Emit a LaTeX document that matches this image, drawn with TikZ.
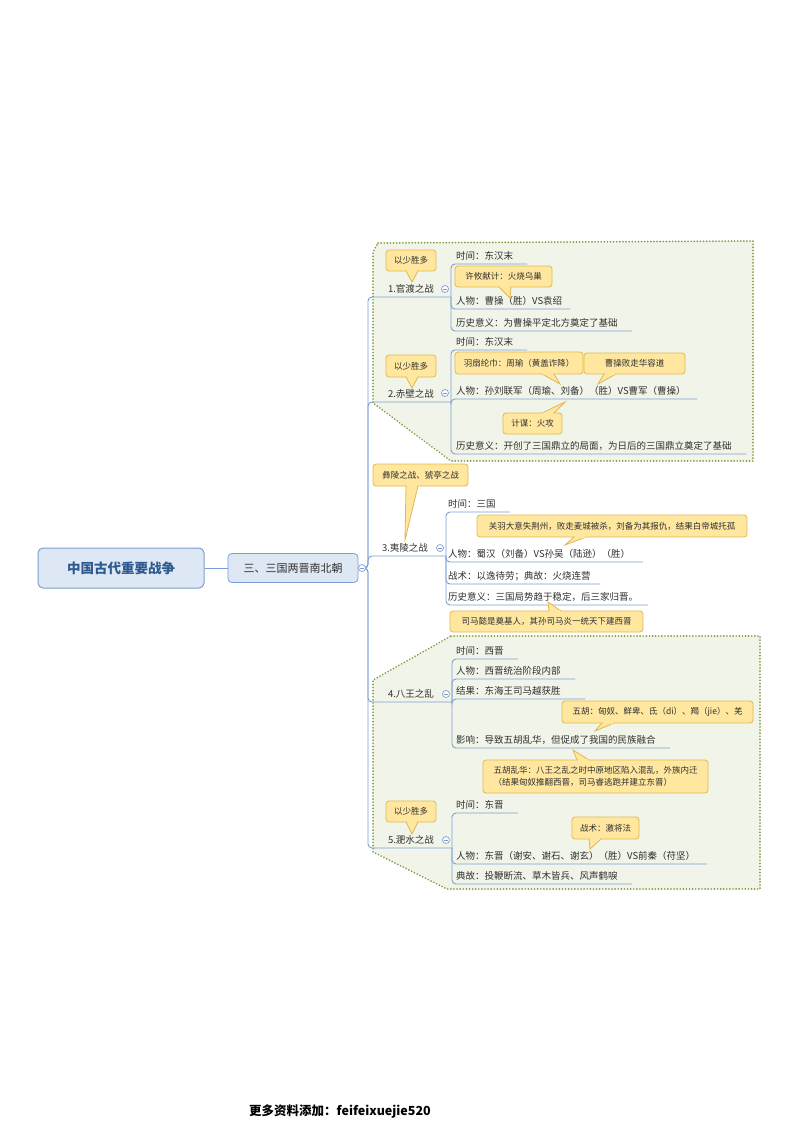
\documentclass[tikz,border=0pt]{standalone}
\usepackage{fontspec}
\setmainfont{Noto Sans CJK SC}
\definecolor{lnc}{HTML}{7B9FD4}
\definecolor{rootc}{HTML}{2E5A8E}
\definecolor{cfill}{HTML}{FFE7A0}
\definecolor{cbord}{HTML}{E2B84E}
\definecolor{txt}{HTML}{303030}
\definecolor{dotc}{HTML}{7F9A3C}
\definecolor{regfill}{HTML}{F1F4E8}
\tikzset{
 lnk/.style={draw=lnc,line width=0.9pt,rounded corners=4pt},
 leaf/.style={anchor=west,inner sep=0pt,font=\fontsize{9.5}{11}\selectfont,text=txt},
 battle/.style={anchor=center,inner sep=0pt,font=\fontsize{9.5}{11}\selectfont,text=txt},
 ctext/.style={inner sep=0pt,font=\fontsize{8.5}{12}\selectfont,text=txt,align=left},
 cbox/.style={draw=cbord,fill=cfill,line width=0.8pt,rounded corners=3pt},
 region/.style={draw=dotc,fill=regfill,line width=1.8pt,dash pattern=on 0.1pt off 3pt,line cap=round},
 coll/.style={circle,draw=lnc,fill=white,line width=0.7pt,minimum size=7pt,inner sep=0pt}
}
\newcommand\callout[9]{%
 \draw[cbox,rounded corners=0pt] (#6-6,#7) -- (#8) -- (#6+6,#7);
 \draw[cbox] (#2,#3) rectangle (#4,#5);
 \fill[cfill] (#6-5.4,#7-1) rectangle (#6+5.4,#7+1);
 \node[ctext] (#1) at ({(#2+#4)/2},{(#3+#5)/2}) {#9};}
\newcommand\leaf[5]{% name subx yc endx text
 \node[leaf] (#1) at (#2+5,#3) {#5};
 \coordinate (#1e) at (#4,#3+8);}
\begin{document}
\begin{tikzpicture}[x=1pt,y=-1pt]
\useasboundingbox (0,0) rectangle (800,1132);
% regions
\path[region] (378,243) -- (753,241) -- (753,461) -- (451,461) -- (373,403) -- (373,252) -- cycle;
\path[region] (451,636) -- (760,636) -- (760,889) -- (447,889) -- (373,852) -- (373,680) -- cycle;
% root
\node[draw=lnc,fill=lnc!25,line width=1pt,rounded corners=5pt,minimum width=166pt,minimum height=40pt,font=\fontsize{13.5}{15}\selectfont\bfseries,text=rootc] (root) at (121,568) {中国古代重要战争};
\node[draw=lnc,fill=lnc!25,line width=0.8pt,rounded corners=4pt,minimum width=130pt,minimum height=29pt,font=\fontsize{11}{13}\selectfont,text=txt] (l1) at (293,568) {三、三国两晋南北朝};
\draw[lnk] (root.east) -- (l1.west);
% spine and battles
\foreach \n/\ub/\cx/\lx/\t in {b1/297/445/411/1.官渡之战, b2/402/445/411/2.赤壁之战, b3/556/440/405/3.夷陵之战, b4/702/446/411/4.八王之乱, b5/848/446/411/5.淝水之战}{
 \coordinate (\n u) at (\cx+6,\ub);
 \draw[lnk] (l1.east) -- (368,568) |- (\n u);
 \node[battle] (\n) at (\lx,\ub-8) {\t};
}
% leaves battle 1
\leaf{a1}{451}{256}{527}{时间：东汉末}
\leaf{a2}{451}{301}{570}{人物：曹操（胜）VS袁绍}
\leaf{a3}{451}{323}{632}{历史意义：为曹操平定北方奠定了基础}
\foreach \c in {a1e,a2e,a3e} \draw[lnk] (b1u) |- (\c);
% battle 2
\leaf{c1}{451}{342}{527}{时间：东汉末}
\leaf{c2}{451}{391}{697}{人物：孙刘联军（周瑜、刘备）（胜）VS曹军（曹操）}
\leaf{c3}{451}{446}{746}{历史意义：开创了三国鼎立的局面，为日后的三国鼎立奠定了基础}
\foreach \c in {c1e,c2e,c3e} \draw[lnk] (b2u) |- (\c);
% battle 3
\leaf{d1}{443}{504}{510}{时间：三国}
\leaf{d2}{443}{554}{643}{人物：蜀汉（刘备）VS孙吴（陆逊）（胜）}
\leaf{d3}{443}{576}{600}{战术：以逸待劳；典故：火烧连营}
\leaf{d4}{443}{597}{648}{历史意义：三国局势趋于稳定，后三家归晋。}
\foreach \c in {d1e,d2e,d3e,d4e} \draw[lnk] (b3u) |- (\c);
% battle 4
\leaf{e1}{451}{651}{518}{时间：西晋}
\leaf{e2}{451}{671}{575}{人物：西晋统治阶段内部}
\leaf{e3}{451}{691}{585}{结果：东海王司马越获胜}
\leaf{e4}{451}{740}{670}{影响：导致五胡乱华，但促成了我国的民族融合}
\foreach \c in {e1e,e2e,e3e,e4e} \draw[lnk] (b4u) |- (\c);
% battle 5
\leaf{f1}{451}{805}{518}{时间：东晋}
\leaf{f2}{451}{856}{707}{人物：东晋（谢安、谢石、谢玄）（胜）VS前秦（苻坚）}
\leaf{f3}{451}{876}{632}{典故：投鞭断流、草木皆兵、风声鹤唳}
\foreach \c in {f1e,f2e,f3e} \draw[lnk] (b5u) |- (\c);
% collapse circles
\node[coll] at (362,568) {}; \draw[lnc,line width=0.6pt] (360,568)--(364,568);
\foreach \x/\y in {445/289,445/393,440/548,446/694,446/840}{
 \node[coll] at (\x,\y) {}; \draw[lnc,line width=0.6pt] (\x-2,\y)--(\x+2,\y);}
% callouts
\callout{k1}{386}{250}{436}{271}{412}{271}{412,282}{以少胜多}
\callout{k2}{455}{266}{552}{287}{505}{287}{510,298}{许攸献计：火烧乌巢}
\callout{k3}{386}{355}{436}{377}{412}{377}{412,388}{以少胜多}
\callout{k4}{455}{352}{583}{374}{548}{374}{560,384}{羽扇纶巾：周瑜（黄盖诈降）}
\callout{k5}{584}{353}{685}{374}{610}{374}{598,384}{曹操败走华容道}
\callout{k6}{503}{413}{562}{434}{548}{413}{565,402}{计谋：火攻}
\callout{k7}{373}{464}{468}{486}{412}{486}{405,540}{彝陵之战、猇亭之战}
\callout{k8}{477}{515}{747}{537}{580}{537}{565,545}{关羽大意失荆州，败走麦城被杀，刘备为其报仇，结果白帝城托孤}
\callout{k9}{450}{611}{643}{632}{555}{611}{548,602}{司马懿是奠基人，其孙司马炎一统天下建西晋}
\callout{k10}{562}{701}{753}{723}{608}{723}{595,731}{五胡：匈奴、鲜卑、氐（di）、羯（jie）、羌}
\callout{k11}{483}{760}{708}{793}{583}{760}{573,750}{五胡乱华：八王之乱之时中原地区陷入混乱，外族内迁\\（结果匈奴推翻西晋，司马睿逃跑并建立东晋）}
\callout{k12}{572}{817}{639}{839}{595}{839}{590,849}{战术：激将法}
\callout{k13}{386}{801}{436}{822}{412}{822}{412,834}{以少胜多}
% footer
\node[font=\fontsize{12.5}{14}\selectfont\bfseries,text=black] (foot) at (340,1111) {更多资料添加：feifeixuejie520};
\end{tikzpicture}
\end{document}
